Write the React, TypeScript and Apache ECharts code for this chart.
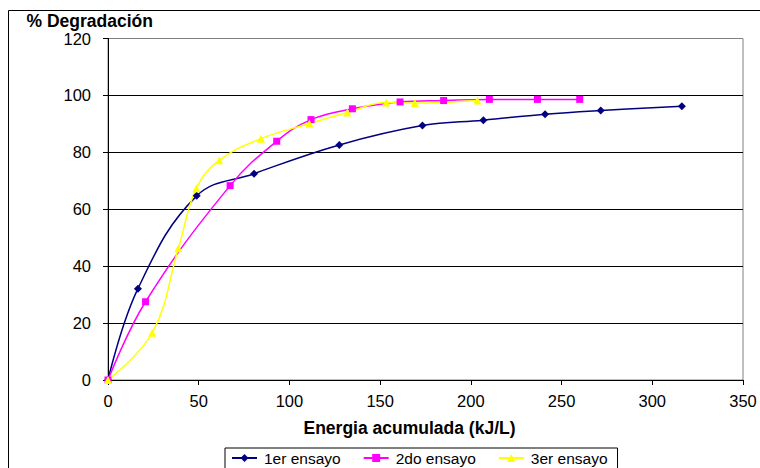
import React, { useEffect, useRef } from "react";
import * as echarts from "echarts";

const seriesNames = ["1er ensayo", "2do ensayo", "3er ensayo"];
const energia1 = [0, 16.5, 48.9, 80.5, 127.5, 173.3, 206.9, 240.9, 271.6, 316.3];
const degr1 = [0, 32.1, 64.7, 72.5, 82.6, 89.4, 91.3, 93.4, 94.7, 96.2];
const energia2 = [0, 20.7, 67.3, 93.0, 111.9, 134.7, 161.0, 185.0, 210.2, 236.7, 260.0];
const degr2 = [0, 27.5, 68.3, 83.9, 91.5, 95.3, 97.7, 98.2, 98.6, 98.6, 98.6];
const energia3 = [0, 24.4, 38.8, 48.7, 61.3, 84.3, 111.0, 131.9, 153.3, 169.1, 203.6];
const degr3 = [0, 16.6, 46.3, 67.4, 77.2, 84.8, 90.1, 94.0, 97.5, 97.3, 98.2];
const yTitle = "% Degradación";
const xTitle = "Energia acumulada (kJ/L)";

const FONT = "'Liberation Sans', Arial, sans-serif";

function pairs(xs: number[], ys: number[]) {
  return xs.map((x, i) => [x, ys[i]]);
}

export default function App() {
  const ref = useRef<HTMLDivElement>(null);
  useEffect(() => {
    if (!ref.current) return;
    const chart = echarts.init(ref.current, undefined, { renderer: "svg" });
    const mk = (name: string, data: number[][], color: string, symbol: string, size: number) => ({
      name,
      type: "line",
      data,
      smooth: 0.4,
      symbol,
      symbolSize: size,
      showSymbol: true,
      lineStyle: { color, width: 1.5 },
      itemStyle: { color, borderWidth: 0 },
      emphasis: { disabled: true },
    });
    chart.setOption({
      animation: false,
      backgroundColor: "#ffffff",
      textStyle: { fontFamily: FONT },
      grid: {
        left: 108,
        right: 17,
        top: 38.5,
        bottom: 88,
        show: true,
        borderColor: "#808080",
        borderWidth: 1,
        backgroundColor: "transparent",
      },
      xAxis: {
        type: "value",
        min: 0,
        max: 350,
        interval: 50,
        axisLine: { show: true, lineStyle: { color: "#000", width: 1 } },
        axisTick: { show: true, inside: false, length: 5, lineStyle: { color: "#000" } },
        axisLabel: { fontSize: 16.5, color: "#000", margin: 12, fontFamily: FONT },
        splitLine: { show: false },
      },
      yAxis: {
        type: "value",
        min: 0,
        max: 120,
        interval: 20,
        axisLine: { show: true, lineStyle: { color: "#000", width: 1 } },
        axisTick: { show: true, inside: false, length: 5, lineStyle: { color: "#000" } },
        axisLabel: { fontSize: 16.5, color: "#000", margin: 17, fontFamily: FONT },
        splitLine: {
          show: true,
          lineStyle: {
            color: ["#000", "#000", "#000", "#000", "#000", "#000", "#808080"],
            width: 1,
          },
        },
      },
      legend: {
        data: seriesNames,
        left: 225,
        top: 448,
        orient: "horizontal",
        itemWidth: 25,
        itemHeight: 10,
        itemGap: 22,
        padding: [2, 10, 18, 6],
        borderColor: "#000",
        borderWidth: 1,
        backgroundColor: "#fff",
        textStyle: { fontSize: 15.5, color: "#000", fontFamily: FONT, padding: [0, 0, 0, 2] },
      },
      graphic: [
        {
          type: "rect",
          shape: { x: 8.5, y: 10.5, width: 780, height: 500 },
          style: { fill: "none", stroke: "#000", lineWidth: 1 },
          silent: true,
          z: -10,
        },
        {
          type: "text",
          x: 26.5,
          y: 21,
          style: {
            text: yTitle,
            font: `bold 17.5px ${FONT}`,
            fill: "#000",
            verticalAlign: "middle",
            align: "left",
          },
        },
        {
          type: "text",
          x: 409.5,
          y: 428,
          style: {
            text: xTitle,
            font: `bold 17.5px ${FONT}`,
            fill: "#000",
            verticalAlign: "middle",
            align: "center",
          },
        },
      ],
      series: [
        mk(seriesNames[0], pairs(energia1, degr1), "#000080", "diamond", 8),
        mk(seriesNames[1], pairs(energia2, degr2), "#FF00FF", "rect", 7),
        mk(seriesNames[2], pairs(energia3, degr3), "#FFFF00", "triangle", 8),
      ],
    });
    return () => chart.dispose();
  }, []);
  return (
    <div
      ref={ref}
      style={{ position: "absolute", left: 0, top: 0, width: 760, height: 468 }}
    />
  );
}
